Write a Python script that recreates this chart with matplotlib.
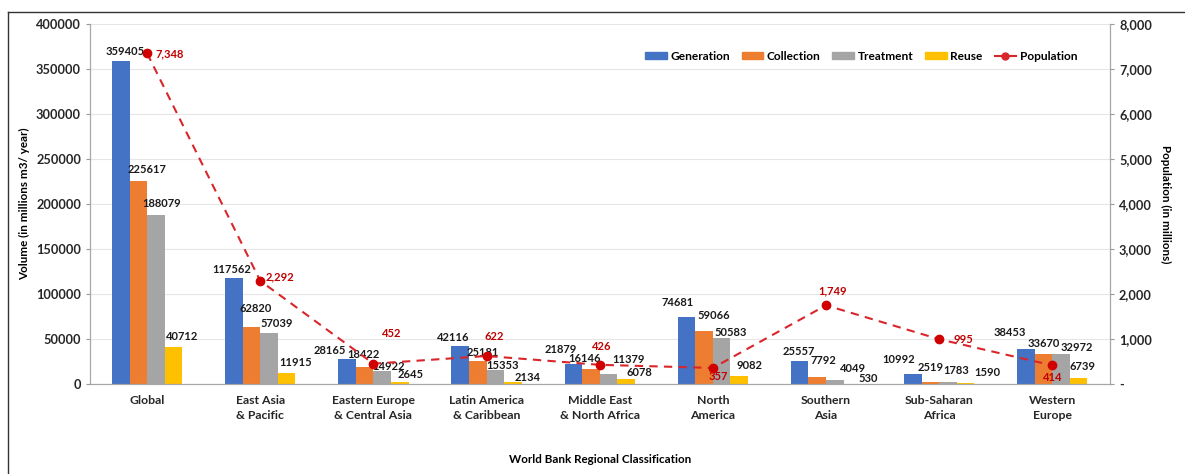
import numpy as np
import matplotlib.pyplot as plt
from matplotlib.lines import Line2D
from matplotlib.patches import Patch

plt.rcParams['font.family'] = ['Lato', 'DejaVu Sans']
plt.rcParams['font.weight'] = 'bold'

regions = ['Global', 'East Asia\n& Pacific', 'Eastern Europe\n& Central Asia',
           'Latin America\n& Caribbean', 'Middle East\n& North Africa', 'North\nAmerica',
           'Southern\nAsia', 'Sub-Saharan\nAfrica', 'Western\nEurope']
generation = [359405, 117562, 28165, 42116, 21879, 74681, 25557, 10992, 38453]
collection = [225617, 62820, 18422, 25181, 16146, 59066, 7792, 2519, 33670]
treatment = [188079, 57039, 14922, 15353, 11379, 50583, 4049, 1783, 32972]
reuse = [40712, 11915, 2645, 2134, 6078, 9082, 530, 1590, 6739]
population = [7348, 2292, 452, 622, 426, 357, 1749, 995, 414]

# label offsets in pixels (dx, dy) from each bar top / marker
gen_off = [(4, 9), (-2, 9), (-17, 8), (-7, 9), (-13, 15), (-9, 14), (-1, 9), (-14, 15), (-16, 17)]
col_off = [(9, 11), (4, 19), (-1, 13), (5, 9), (-6, 11), (10, 15), (6, 16), (0, 14), (0, 10)]
tre_off = [(6, 11), (8, 9), (6, 4), (7, 5), (20, 14), (9, 6), (18, 12), (8, 12), (16, 7)]
reu_off = [(9, 11), (9, 11), (11, 7), (15, 5), (13, 6), (10, 10), (16, 5), (22, 10), (4, 11)]
pop_off = [(23, -1), (20, 4), (18, 30), (8, 20), (2, 18), (5, -9), (7, 14), (24, 0), (0, -12)]

colors = ['#4472C4', '#ED7D31', '#A5A5A5', '#FFC000']
red = '#D9262B'

fig = plt.figure(figsize=(11.85, 4.74), dpi=100)
ax = fig.add_axes([90 / 1185, 90 / 474, 1020 / 1185, 360 / 474])
ax2 = ax.twinx()

x = np.arange(len(regions))
w = 0.155
series = [generation, collection, treatment, reuse]
offsets = [gen_off, col_off, tre_off, reu_off]
names = ['Generation', 'Collection', 'Treatment', 'Reuse']
for k in range(4):
    xs = x + (k - 1.5) * w
    ax.bar(xs, series[k], w, color=colors[k], zorder=2)
    for i in range(len(regions)):
        ax.annotate(str(series[k][i]), (xs[i], series[k][i]), xytext=offsets[k][i],
                    textcoords='offset pixels', ha='center', va='center',
                    fontsize=8, fontweight='bold', color='#1a1a1a', zorder=5)

ax.set_xlim(-0.505, 8.51)
ax.set_ylim(0, 400000)
ax.set_yticks(np.arange(0, 400001, 50000))
ax.grid(axis='y', color='#e6e6e6', linewidth=0.8, zorder=0)
ax.set_axisbelow(True)
ax.set_xticks(x)
ax.set_xticklabels(regions, fontsize=8.8, fontweight='bold', color='#262626', linespacing=1.45)
ax.tick_params(axis='x', length=0, pad=8)
ax.tick_params(axis='y', labelsize=9.2, colors='#262626', length=3, color='#999999')
for lab in ax.get_yticklabels():
    lab.set_fontweight('bold')
ax.set_ylabel('Volume (in millions m3/ year)', fontsize=8.4, fontweight='bold', labelpad=4)
ax.set_xlabel('World Bank Regional Classification', fontsize=8.4, fontweight='bold', labelpad=24)

ax2.plot(x, population, color=red, linestyle=(0, (4, 3)), linewidth=1.5,
         marker='o', markersize=6, markerfacecolor='#D00000', markeredgecolor='#D00000', zorder=4)
for i in range(len(regions)):
    ax2.annotate('{:,}'.format(population[i]), (x[i], population[i]), xytext=pop_off[i],
                 textcoords='offset pixels', ha='center', va='center',
                 fontsize=8, fontweight='bold', color='#C00000')
ax2.set_ylim(0, 8000)
ax2.set_yticks(np.arange(0, 8001, 1000))
ax2.set_yticklabels(['-' if v == 0 else '{:,}'.format(v) for v in range(0, 8001, 1000)])
ax2.tick_params(axis='y', labelsize=9.2, colors='#262626', length=3, color='#999999')
for lab in ax2.get_yticklabels():
    lab.set_fontweight('bold')
ax2.set_ylabel('Population (in millions)', fontsize=8.4, fontweight='bold', rotation=270, labelpad=14)

for a in (ax, ax2):
    a.spines['top'].set_visible(False)
    for s in ('left', 'right', 'bottom'):
        a.spines[s].set_color('#a6a6a6')

handles = [Patch(color=c) for c in colors]
handles.append(Line2D([], [], color=red, marker='o', markersize=5, linewidth=1.5))
ax2.legend(handles, names + ['Population'], loc='upper right', bbox_to_anchor=(1088 / 1185, 434 / 474),
           bbox_transform=fig.transFigure, ncol=5, frameon=False,
           handlelength=1.8, handleheight=0.5, handletextpad=0.3, columnspacing=1.0,
           prop={'weight': 'bold', 'size': 8.6})

# outer frame
fig.add_artist(Line2D([8 / 1185, 8 / 1185], [0, 462 / 474], transform=fig.transFigure, color='#333333', linewidth=1))
fig.add_artist(Line2D([8 / 1185, 1], [462 / 474, 462 / 474], transform=fig.transFigure, color='#333333', linewidth=1))

fig.savefig('out.png', dpi=100)
